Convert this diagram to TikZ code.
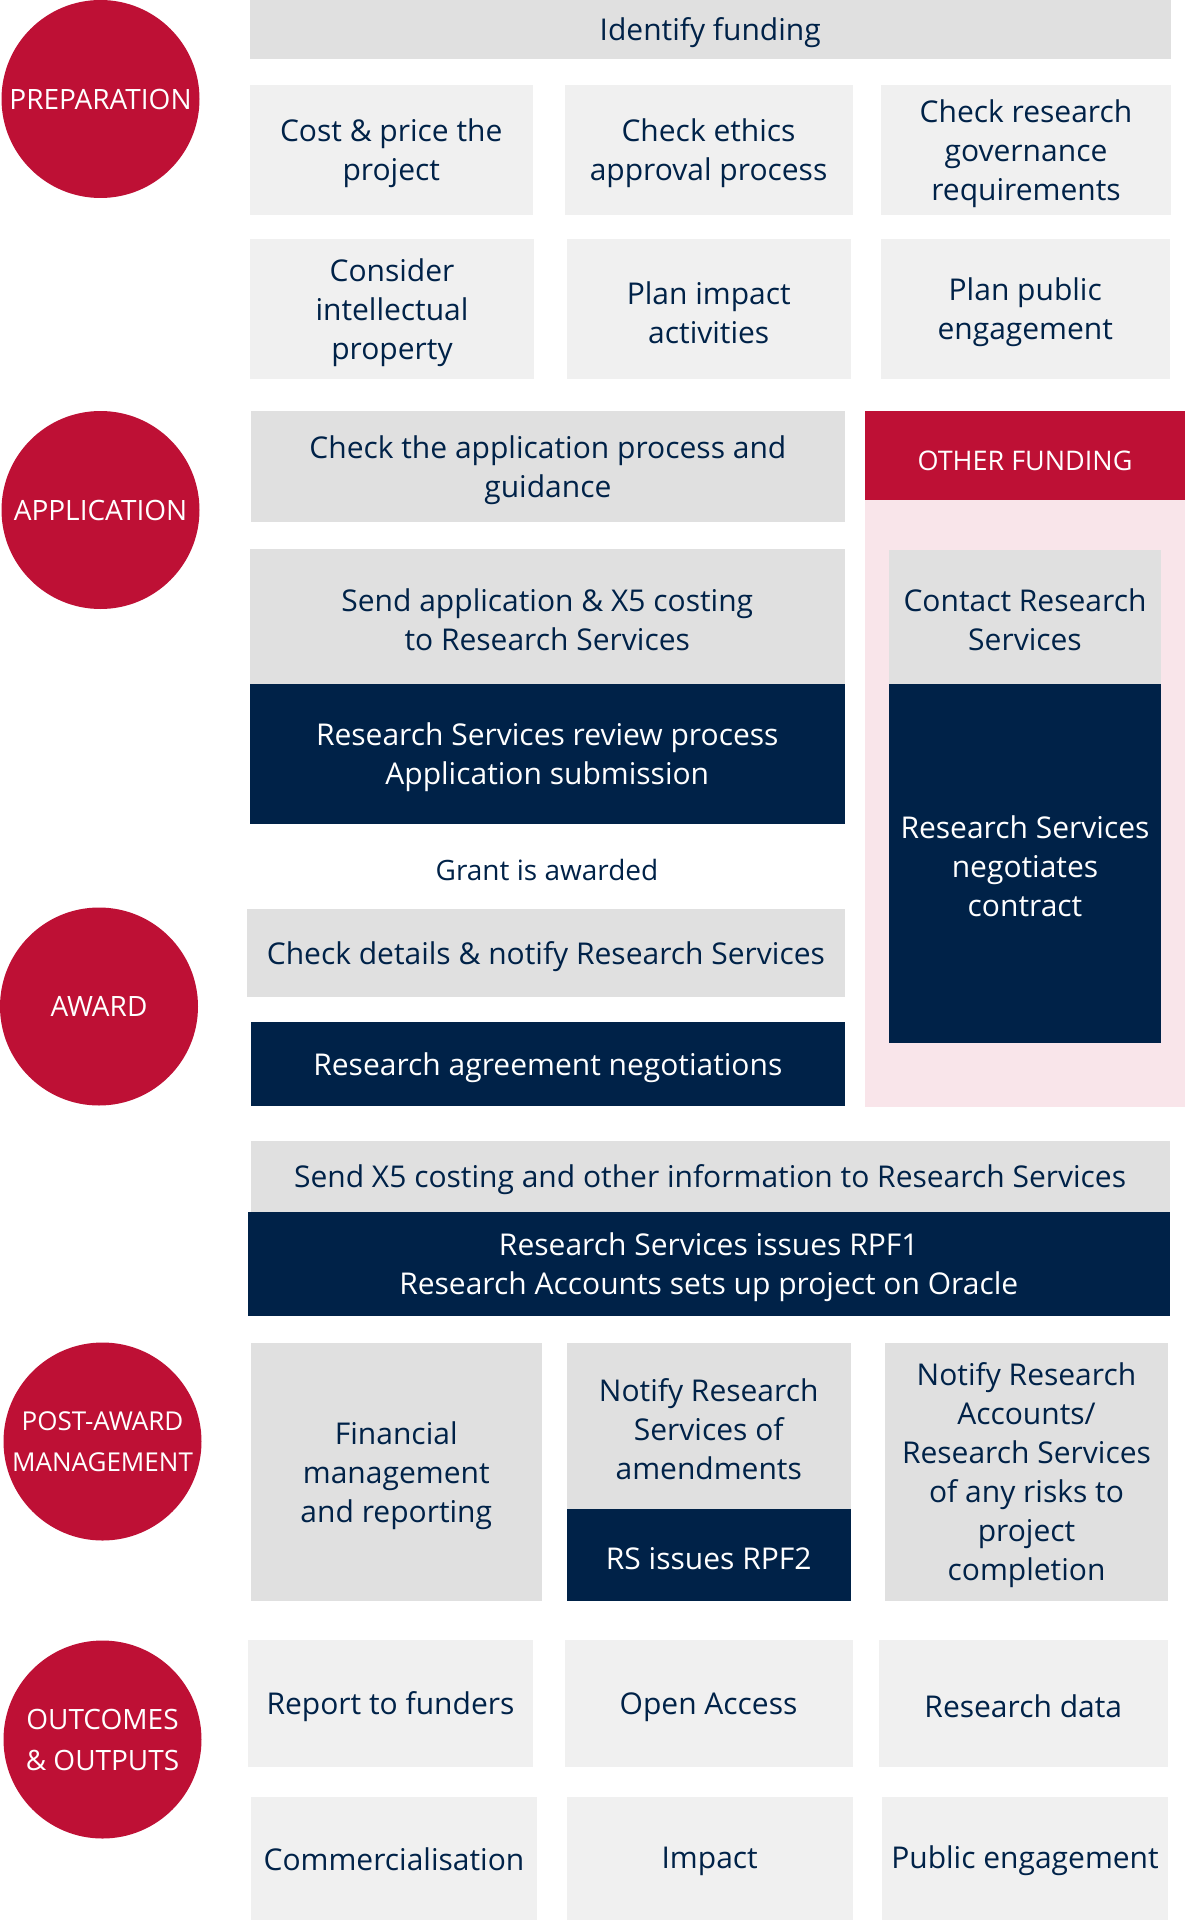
\documentclass[tikz,border=0pt]{standalone}
\usepackage{fontspec}
\setmainfont{Open Sans}
\definecolor{crimson}{HTML}{BE1035}
\definecolor{navy}{HTML}{002248}
\definecolor{gA}{HTML}{E0E0E0}
\definecolor{gB}{HTML}{F0F0F0}
\definecolor{pinkbg}{HTML}{F9E5EA}
\newcommand\linestrut{\rule[-0.4pt]{0pt}{15.4pt}}
\newcommand\lowstrut{\rule[-2pt]{0pt}{15pt}}
\newcommand\myboxgeneric[8]{%
  \pgfmathsetmacro\bcx{(#4+#6)/2}%
  \pgfmathsetmacro\bcy{(#5+#7)/2}%
  \pgfmathsetmacro\bw{(#6-#4)*0.5}%
  \pgfmathsetmacro\bh{(#7-#5)*0.5}%
  \node[#2, minimum width=\bw pt, minimum height=\bh pt] (#3) at (\bcx,\bcy) {#1#8#1};%
}
\newcommand\mybox{\myboxgeneric{\linestrut}}
\newcommand\myboxlow{\myboxgeneric{\lowstrut}}
\begin{document}
\begin{tikzpicture}[x=0.5pt,y=-0.5pt,
  every node/.style={inner sep=0pt, outer sep=0pt},
  base/.style={rectangle, align=center, font=\fontsize{15pt}{19.5pt}\selectfont, text=navy},
  grayA/.style={base, fill=gA},
  grayB/.style={base, fill=gB},
  dark/.style={base, fill=navy, text=white},
  redhead/.style={base, fill=crimson, text=white, font=\fontsize{13.5pt}{19.5pt}\selectfont},
  panel/.style={rectangle, fill=pinkbg},
  plain/.style={base, font=\fontsize{14pt}{19.5pt}\selectfont},
  phase/.style={circle, fill=crimson, text=white, minimum size=99pt, align=center, font=\fontsize{14pt}{20.5pt}\selectfont},
]
\useasboundingbox[fill=white] (0,0) rectangle (1200,1920);

% PREPARATION
\node[phase] (prep) at (100.5,99) {PREPARATION};
\mybox{grayA}{idf}{249.5}{0}{1171}{59}{Identify funding}
\mybox{grayB}{cost}{249.5}{85}{533}{215}{Cost \& price the\\project}
\mybox{grayB}{ethics}{564.5}{85}{852.6}{215}{Check ethics\\approval process}
\mybox{grayB}{gov}{881}{85}{1171}{215}{Check research\\governance\\requirements}
\mybox{grayB}{ip}{250}{239}{534}{379}{Consider\\intellectual\\property}
\mybox{grayB}{pimpact}{566.8}{239}{850.7}{379}{Plan impact\\activities}
\mybox{grayB}{ppublic}{881}{239}{1169.5}{379}{Plan public\\engagement}

% APPLICATION
\node[phase] (app) at (100.5,510) {APPLICATION};
\mybox{grayA}{chk}{250.7}{411}{845}{522}{Check the application process and\\guidance}
\mybox{grayA}{send}{249.5}{549}{845}{683.5}{Send application \& X5 costing\\to Research Services}
\mybox{dark}{review}{249.5}{683.5}{845}{824}{Research Services review process\\Application submission}
\node[plain] (grant) at (547,866) {\linestrut Grant is awarded\linestrut};

% OTHER FUNDING panel
\mybox{panel}{pnl}{865}{411}{1185}{1107}{}
\mybox{redhead}{other}{865}{411}{1185}{500}{OTHER FUNDING}
\mybox{grayA}{contact}{889}{549.5}{1161}{683.5}{Contact Research\\Services}
\mybox{dark}{nego}{889}{683.5}{1161}{1043}{Research Services\\negotiates\\contract}

% AWARD
\node[phase] (award) at (99,1006.5) {AWARD};
\mybox{grayA}{details}{246.8}{908.7}{845}{996.7}{Check details \& notify Research Services}
\mybox{dark}{agree}{250.7}{1021.7}{845}{1106}{Research agreement negotiations}
\mybox{grayA}{xfive}{250.7}{1140.7}{1169.5}{1211.7}{Send X5 costing and other information to Research Services}
\mybox{dark}{rpfone}{248}{1211.7}{1169.5}{1315.7}{Research Services issues RPF1\\Research Accounts sets up project on Oracle}

% POST-AWARD
\node[phase, font=\fontsize{13pt}{20.5pt}\selectfont] (post) at (102.5,1441.5) {POST-AWARD\\MANAGEMENT};
\mybox{grayA}{fin}{251}{1342.7}{541.5}{1600.5}{Financial\\management\\and reporting}
\mybox{grayA}{amend}{566.8}{1342.7}{850.7}{1508.8}{Notify Research\\Services of\\amendments}
\mybox{dark}{rpftwo}{566.8}{1508.8}{850.7}{1600.5}{RS issues RPF2}
\mybox{grayA}{risk}{885}{1342.7}{1168}{1600.5}{Notify Research\\Accounts/\\Research Services\\of any risks to\\project\\completion}

% OUTCOMES
\node[phase] (outc) at (102.5,1739.5) {OUTCOMES\\\& OUTPUTS};
\mybox{grayB}{rep}{248}{1640}{533}{1766.6}{Report to funders}
\mybox{grayB}{oa}{564.5}{1640}{852.6}{1766.6}{Open Access}
\mybox{grayB}{rdata}{878.6}{1640}{1168}{1766.6}{Research data}
\myboxlow{grayB}{comm}{251}{1796.6}{537}{1922}{Commercialisation}
\myboxlow{grayB}{imp}{566.8}{1796.6}{852.6}{1922}{Impact}
\myboxlow{grayB}{peng}{882}{1796.6}{1168}{1922}{Public engagement}
\end{tikzpicture}
\end{document}
